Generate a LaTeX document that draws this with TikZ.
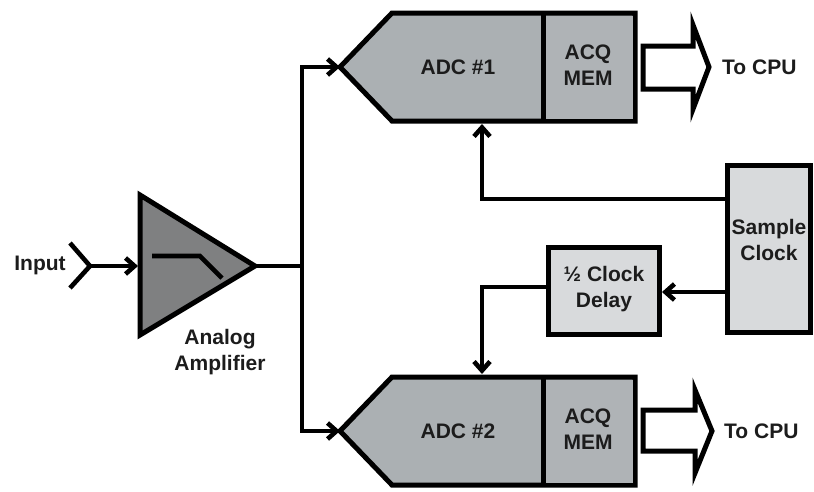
\documentclass[tikz,border=0pt]{standalone}
\usepackage{fontspec}
\setmainfont{Liberation Sans}
\usetikzlibrary{arrows.meta}
\definecolor{adcgray}{RGB}{171,176,179}
\definecolor{memgray}{RGB}{175,179,182}
\definecolor{ampgray}{RGB}{127,128,129}
\definecolor{boxgray}{RGB}{216,218,220}
\definecolor{txt}{RGB}{28,28,28}
\tikzset{
  lbl/.style={font=\fontsize{21}{25.5}\selectfont\bfseries, text=txt, inner sep=0pt, align=center},
  thick4/.style={line width=5pt, line join=miter},
  conn/.style={line width=4.6pt, -{Straight Barb[length=9pt,width=16pt]}},
  wire/.style={line width=4.6pt},
  blk/.style={draw, line width=5pt, fill=boxgray, inner sep=0pt},
  hollow/.style={draw, line width=5pt, fill=white, line join=miter},
}
\begin{document}
\begin{tikzpicture}[x=1pt,y=-1pt]
\useasboundingbox (0,0) rectangle (814,491);
% ADC #1
\coordinate (adc1tip) at (340,67);
\coordinate (adc1bot) at (482,124);
\draw[thick4, fill=adcgray] (adc1tip) -- (392,13) -- (635,13) -- (635,121) -- (392,121) -- cycle;
\fill[memgray] (545,15.5) rectangle (632.5,118.5);
\draw[thick4] (543,13) -- (543,121);
\node[lbl] (adc1) at (458,67) {ADC \#1};
\node[lbl] (mem1) at (588,65) {ACQ\\MEM};
% ADC #2
\coordinate (adc2tip) at (340,431);
\coordinate (adc2top) at (482,374);
\draw[thick4, fill=adcgray] (adc2tip) -- (392,377) -- (635,377) -- (635,485) -- (392,485) -- cycle;
\fill[memgray] (545,379.5) rectangle (632.5,482.5);
\draw[thick4] (543,377) -- (543,485);
\node[lbl] (adc2) at (458,431) {ADC \#2};
\node[lbl] (mem2) at (588,429) {ACQ\\MEM};
% To CPU arrows
\draw[hollow] (643,46) -- (693,46) -- (693,25) -- (709,67) -- (693,109) -- (693,89) -- (643,89) -- cycle;
\draw[hollow] (643,410) -- (695,410) -- (695,390) -- (712,431) -- (695,473) -- (695,451) -- (643,451) -- cycle;
\node[lbl, anchor=west] (cpu1) at (722,67) {To CPU};
\node[lbl, anchor=west] (cpu2) at (724,431) {To CPU};
% Sample clock
\node[blk, minimum width=83pt, minimum height=167pt] (clk) at (769,249) {};
\node[lbl] (clktxt) at (769,240) {Sample\\Clock};
% Half clock delay
\node[blk, minimum width=111pt, minimum height=87pt] (dly) at (604,291) {};
\node[lbl] (dlytxt) at (604,289) {½ Clock\\Delay};
% Amplifier
\coordinate (ampin) at (138,266);
\coordinate (ampout) at (255,266);
\draw[thick4, fill=ampgray] (140,195) -- (ampout) -- (140,335) -- cycle;
\draw[wire, line cap=butt] (152,256) -- (200,256) -- (222,278);
\node[lbl] (amptxt) at (220,352) {Analog\\Amplifier};
% Input
\node[lbl] (inp) at (40,265) {Input};
\coordinate (inchev) at (90,266);
\draw[wire] (70,243) -- (inchev) -- (70,288);
\draw[conn] (inchev) -- (ampin);
% bus
\coordinate (bus) at (302,266);
\draw[wire] (ampout) -- (bus);
\draw[conn] (bus) |- (adc1tip);
\draw[conn] (bus) |- (adc2tip);
% clock connections
\coordinate (clkw1) at (727,199);
\coordinate (clkw2) at (727,292);
\coordinate (dlyw) at (548,287);
\coordinate (dlye) at (662,292);
\draw[conn] (clkw1) -| (adc1bot);
\draw[conn] (clkw2) -- (dlye);
\draw[conn] (dlyw) -| (adc2top);
\end{tikzpicture}
\end{document}
